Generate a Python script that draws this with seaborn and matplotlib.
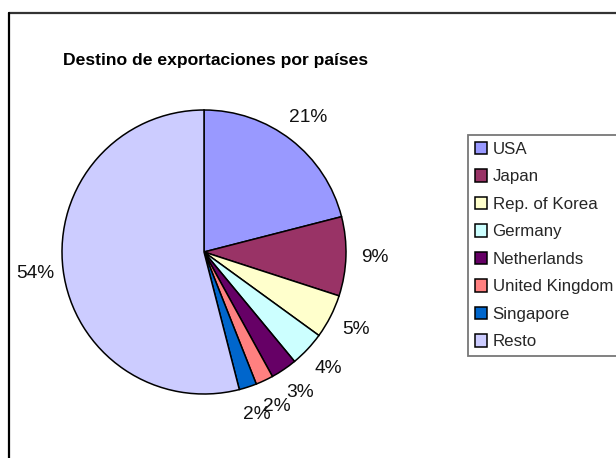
import matplotlib
matplotlib.use("Agg")
import matplotlib.pyplot as plt
from matplotlib.lines import Line2D
import seaborn as sns

countries = ["USA", "Japan", "Rep. of Korea", "Germany", "Netherlands",
             "United Kingdom", "Singapore", "Resto"]
shares = [21, 9, 5, 4, 3, 2, 2, 54]
colors_hex = ["#9999FF", "#993366", "#FFFFCC", "#CCFFFF", "#660066",
              "#FF8080", "#0066CC", "#CCCCFF"]
title = "Destino de exportaciones por países"

sns.set_theme(style="white")
plt.rcParams["font.family"] = ["Liberation Sans", "DejaVu Sans"]
palette = sns.color_palette(colors_hex)

W, H = 616, 458
fig = plt.figure(figsize=(W / 100, H / 100), dpi=100)
fig.patch.set_facecolor("white")

# pie axes: center (204, 252), radius 142 px
cx, cy, r = 204, 252, 142
ax = fig.add_axes([(cx - r) / W, (H - cy - r) / H, 2 * r / W, 2 * r / H])
wedges, texts, autotexts = ax.pie(
    shares, colors=palette, startangle=90, counterclock=False,
    autopct="%.0f%%", pctdistance=1.2,
    wedgeprops=dict(edgecolor="black", linewidth=1.1),
    textprops=dict(fontsize=13.8, color="#111111"))
ax.set_xlim(-1, 1)
ax.set_ylim(-1, 1)
ax.set_aspect("equal")
ax.axis("off")

fig.text(63 / W, 1 - 61 / H, title, ha="left", va="center",
         fontsize=12.6, fontweight="bold", color="black")

leg = fig.legend(wedges, countries, loc="upper left",
                 bbox_to_anchor=(468 / W, 1 - 135 / H),
                 bbox_transform=fig.transFigure, borderaxespad=0,
                 frameon=True, fancybox=False, fontsize=12.2,
                 handlelength=0.75, handleheight=0.75, handletextpad=0.3,
                 labelspacing=0.73, borderpad=0.4)
leg.get_frame().set_edgecolor("#555555")
leg.get_frame().set_linewidth(1.3)

# chart area border (top and left visible)
fig.add_artist(Line2D([9 / W, 1.0], [1 - 13 / H, 1 - 13 / H],
                      transform=fig.transFigure, color="#333333", lw=1.6))
fig.add_artist(Line2D([9 / W, 9 / W], [0, 1 - 13 / H],
                      transform=fig.transFigure, color="black", lw=1.6))

fig.savefig("out.png", dpi=100, facecolor="white")
